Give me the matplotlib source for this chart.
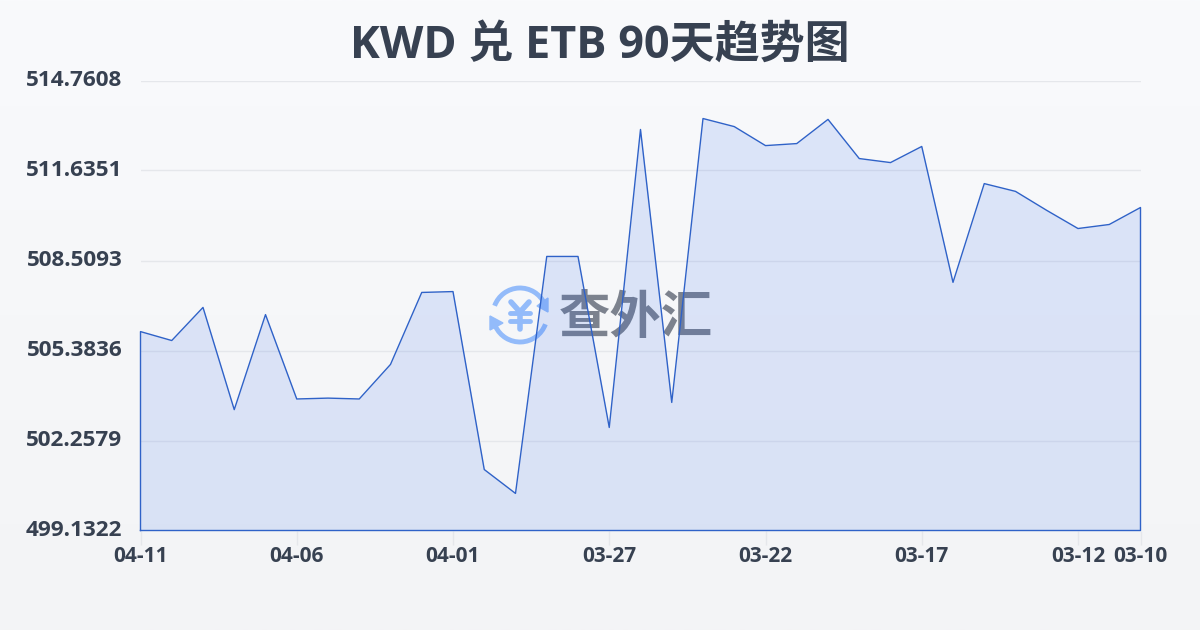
import numpy as np
import matplotlib
matplotlib.use('Agg')
import matplotlib.pyplot as plt
from matplotlib.patches import Arc, Polygon
from matplotlib.transforms import ScaledTranslation

plt.rcParams['font.family'] = ['Open Sans', 'Noto Sans CJK SC', 'DejaVu Sans']

## data
days = ['04-11', '04-10', '04-09', '04-08', '04-07', '04-06', '04-05', '04-04', '04-03',
        '04-02', '04-01', '03-31', '03-30', '03-29', '03-28', '03-27', '03-26', '03-25',
        '03-24', '03-23', '03-22', '03-21', '03-20', '03-19', '03-18', '03-17', '03-16',
        '03-15', '03-14', '03-13', '03-12', '03-11', '03-10']
rates = [506.04, 505.73, 506.88, 503.33, 506.63, 503.70, 503.73, 503.70, 504.90,
         507.40, 507.43, 501.25, 500.42, 508.65, 508.65, 502.71, 513.06, 503.58,
         513.44, 513.16, 512.50, 512.57, 513.41, 512.05, 511.91, 512.47, 507.75,
         511.18, 510.91, 510.25, 509.62, 509.76, 510.35]
y_ticks = [499.1322, 502.2579, 505.3836, 508.5093, 511.6351, 514.7608]
x_labels = ['04-11', '04-06', '04-01', '03-27', '03-22', '03-17', '03-12', '03-10']

text_color = '#374151'
line_color = '#2f62c8'

x = np.arange(len(days))
x_ticks = [days.index(d) for d in x_labels]

fig = plt.figure(figsize=(12, 6.3), dpi=100)

## background and watermark, in pixel coordinates
bg = fig.add_axes([0, 0, 1, 1], zorder=0)
bg.imshow(np.linspace(0, 1, 256).reshape(-1, 1), aspect='auto', extent=[0, 1200, 630, 0],
          cmap=matplotlib.colors.LinearSegmentedColormap.from_list('bg', ['#f9fafc', '#f3f4f6']))

logo = '#93bbfa'
bg.add_patch(Arc((520, 315), 54, 54, theta1=200, theta2=335, color=logo, lw=3.5))
bg.add_patch(Arc((520, 315), 54, 54, theta1=20, theta2=155, color=logo, lw=3.5))
bg.add_patch(Polygon([[548, 298], [548, 312], [537, 306]], color=logo))
bg.add_patch(Polygon([[490, 316], [490, 330], [503, 323]], color=logo))
bg.plot([511, 520, 529], [302, 312, 302], color=logo, lw=4, solid_capstyle='round')
bg.plot([520, 520], [312, 329], color=logo, lw=4, solid_capstyle='round')
bg.plot([510, 530], [313, 313], color=logo, lw=3.5, solid_capstyle='round')
bg.plot([510, 530], [321, 321], color=logo, lw=3.5, solid_capstyle='round')
bg.set_xlim(0, 1200)
bg.set_ylim(630, 0)
bg.axis('off')
bg.text(636, 317, '查外汇', color='#7c828e', fontsize=37, fontweight='bold', ha='center', va='center',
        family='Noto Sans CJK SC')

## chart
ax = fig.add_axes([140.5 / 1200, 99.5 / 630, 1000 / 1200, 450 / 630], zorder=1)
ax.patch.set_alpha(0)
ax.set_xlim(0, len(days) - 1)
ax.set_ylim(y_ticks[0], y_ticks[-1])
ax.grid(axis='y', color='#e5e7eb', lw=1)
ax.set_axisbelow(True)
ax.fill_between(x, rates, y_ticks[0], color='#2563eb', alpha=0.13, lw=0, zorder=2)
ax.plot(np.r_[x[0], x, x[-1], x[0]], np.r_[y_ticks[0], rates, y_ticks[0], y_ticks[0]],
        color=line_color, lw=1, zorder=3, clip_on=False)

for s in ax.spines.values():
    s.set_visible(False)
ax.set_xticks(x_ticks, x_labels)
ax.set_yticks(y_ticks, [f'{v:.4f}' for v in y_ticks])
ax.tick_params(axis='x', length=10, width=1, color='#e5e7eb', pad=1, labelsize=15, labelcolor=text_color)
ax.tick_params(axis='y', length=0, pad=13, labelsize=16.2, labelcolor=text_color)
for t in ax.get_xticklabels() + ax.get_yticklabels():
    t.set_fontweight('bold')
## y labels sit a little above their gridlines
up = ScaledTranslation(0, 2 / 72, fig.dpi_scale_trans)
for t in ax.get_yticklabels():
    t.set_transform(t.get_transform() + up)

fig.text(600 / 1200, 1 - 46.5 / 630, 'KWD 兑 ETB 90天趋势图', color=text_color, fontsize=32.4,
         fontweight='bold', ha='center', va='center')

plt.savefig('out.png', dpi=100)
